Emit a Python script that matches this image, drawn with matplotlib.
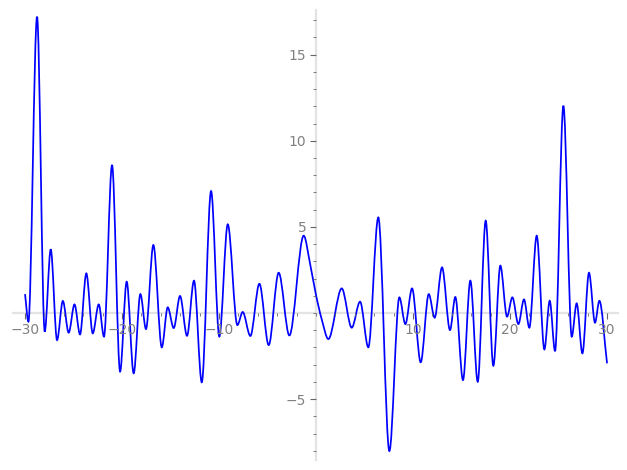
import numpy as np
import matplotlib
matplotlib.use("Agg")
import matplotlib.pyplot as plt
from matplotlib.path import Path
from matplotlib.patches import PathPatch
from matplotlib.ticker import MultipleLocator, FixedLocator

# turning points of the curve
xs = [-30.0, -29.65, -28.76, -27.97, -27.35, -26.7, -26.1, -25.5, -24.9, -24.33,
      -23.68, -23.02, -22.4, -21.86, -21.03, -20.2, -19.52, -18.8, -18.11, -17.53,
      -16.77, -15.9, -15.29, -14.67, -14.02, -13.3, -12.58, -11.78, -10.82, -9.97,
      -9.1, -8.11, -7.56, -6.77, -5.84, -4.88, -3.85, -2.75, -1.27, -0.62,
      0.0, 0.59, 1.27, 2.65, 3.68, 4.54, 5.39, 6.42, 7.56, 8.59,
      9.21, 9.9, 10.79, 11.62, 12.23, 12.99, 13.81, 14.36, 15.15, 15.91,
      16.67, 17.49, 18.28, 19.0, 19.69, 20.24, 20.86, 21.44, 21.99, 22.75,
      23.54, 24.09, 24.64, 25.5, 26.36, 26.87, 27.46, 28.14, 28.76, 29.21, 30.0]
ys = [1.1, -0.5, 17.2, -1.08, 3.7, -1.57, 0.7, -1.14, 0.5, -1.24,
      2.3, -1.18, 0.5, -1.37, 8.59, -3.4, 1.82, -3.5, 1.1, -0.93,
      3.95, -1.99, 0.33, -0.87, 0.99, -1.32, 1.88, -4.02, 7.08, -1.37,
      5.15, -0.7, 0.06, -1.33, 1.7, -1.86, 2.34, -1.3, 4.49, 2.88,
      1.04, -0.37, -1.51, 1.43, -0.85, 0.66, -1.99, 5.55, -8.01, 0.91,
      -0.64, 1.43, -2.86, 1.1, -0.27, 2.65, -0.99, 0.93, -3.89, 1.88,
      -3.99, 5.36, -3.06, 2.75, -0.21, 0.91, -0.64, 0.79, -0.85, 4.49,
      -2.11, 0.71, -2.21, 12.03, -1.37, 0.56, -2.34, 2.34, -0.56, 0.71, -2.92]

xticks = [-30, -20, -10, 10, 20, 30]
yticks = [-5, 5, 10, 15]


def pchip_slopes(x, y):
    x = np.asarray(x, float)
    y = np.asarray(y, float)
    h = np.diff(x)
    d = np.diff(y) / h
    m = np.zeros_like(y)
    for k in range(1, len(x) - 1):
        if d[k - 1] * d[k] > 0:
            w1 = 2 * h[k] + h[k - 1]
            w2 = h[k] + 2 * h[k - 1]
            m[k] = (w1 + w2) / (w1 / d[k - 1] + w2 / d[k])
    m[0] = d[0]
    m[-1] = d[-1]
    return m


def smooth_path(x, y):
    m = pchip_slopes(x, y)
    verts = [(x[0], y[0])]
    codes = [Path.MOVETO]
    for k in range(len(x) - 1):
        h = x[k + 1] - x[k]
        verts += [(x[k] + h / 3, y[k] + m[k] * h / 3),
                  (x[k + 1] - h / 3, y[k + 1] - m[k + 1] * h / 3),
                  (x[k + 1], y[k + 1])]
        codes += [Path.CURVE4] * 3
    return Path(verts, codes)


fig = plt.figure(figsize=(6.27, 4.70), dpi=100)
ax = fig.add_axes([13 / 627, 10 / 470, 605 / 627, 450 / 470])

ax.add_patch(PathPatch(smooth_path(xs, ys), fill=False, edgecolor="blue", lw=1.25))

ax.set_xlim(-31.24, 31.13)
ax.set_ylim(-8.53, 17.59)

for s in ["top", "right"]:
    ax.spines[s].set_visible(False)
ax.spines["left"].set_position(("data", 0))
ax.spines["bottom"].set_position(("data", 0))
for s in ["left", "bottom"]:
    ax.spines[s].set_color("#e3e3e3")
    ax.spines[s].set_linewidth(1.6)
    ax.spines[s].set_zorder(0)

ax.xaxis.set_major_locator(FixedLocator(xticks))
ax.yaxis.set_major_locator(FixedLocator(yticks))
ax.xaxis.set_minor_locator(MultipleLocator(2))
ax.yaxis.set_minor_locator(MultipleLocator(1))
ax.tick_params(which="major", direction="out", length=4, width=0.8,
               color="#666666", labelcolor="#808080", labelsize=10, pad=3)
ax.tick_params(which="minor", direction="out", length=2.2, width=0.6, color="#666666")

fig.savefig("out.png", dpi=100)
